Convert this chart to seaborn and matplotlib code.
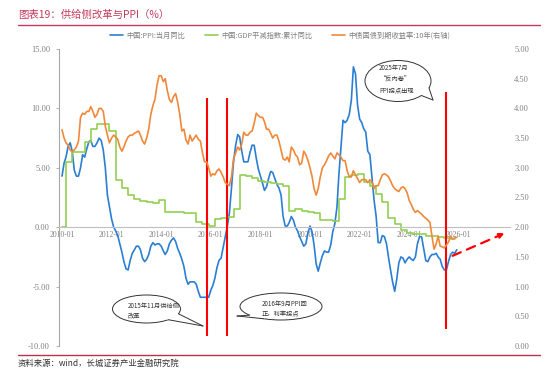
import pandas as pd
import numpy as np
import matplotlib.pyplot as plt
from matplotlib.patches import Ellipse, Polygon
from matplotlib.lines import Line2D
import seaborn as sns

sns.set_theme(style="white")
plt.rcParams['font.family'] = ['Noto Sans CJK SC', 'DejaVu Sans']
plt.rcParams['axes.unicode_minus'] = False

# ---- data ----
months = pd.date_range('2010-01-01', '2025-12-01', freq='MS')

ppi = [
    4.3, 5.4, 5.9, 6.8, 7.1, 6.4, 4.8, 4.3, 4.3, 5.0, 6.1, 5.9,
    6.6, 7.2, 7.3, 6.8, 6.8, 7.1, 7.5, 7.3, 6.5, 5.0, 2.7, 1.7,
    0.7, 0.0, -0.3, -0.7, -1.4, -2.1, -2.9, -3.5, -3.6, -2.8, -2.2, -1.9,
    -1.6, -1.6, -1.9, -2.6, -2.9, -2.7, -2.3, -1.6, -1.3, -1.5, -1.4, -1.4,
    -1.6, -2.0, -2.3, -2.0, -1.4, -1.1, -0.9, -1.2, -1.8, -2.2, -2.7, -3.3,
    -4.3, -4.8, -4.6, -4.6, -4.6, -4.8, -5.4, -5.9, -5.9, -5.9, -5.9, -5.9,
    -5.3, -4.9, -4.3, -3.4, -2.8, -2.6, -1.7, -0.8, 0.1, 1.2, 3.3, 5.5,
    6.9, 7.8, 7.6, 6.4, 5.5, 5.5, 5.5, 6.3, 6.9, 6.9, 5.8, 4.9,
    4.3, 3.7, 3.1, 3.4, 4.1, 4.7, 4.6, 4.1, 3.6, 3.3, 2.7, 0.9,
    0.1, 0.1, 0.4, 0.9, 0.6, 0.0, -0.3, -0.8, -1.2, -1.6, -1.4, -0.5,
    0.1, -0.4, -1.5, -3.1, -3.7, -3.0, -2.4, -2.0, -2.1, -2.1, -1.5, -0.4,
    0.3, 1.7, 4.4, 6.8, 9.0, 8.8, 9.0, 9.5, 10.7, 13.5, 12.9, 10.3,
    9.1, 8.8, 8.3, 8.0, 6.4, 6.1, 4.2, 2.3, 0.9, -1.3, -1.3, -0.7,
    -0.8, -1.4, -2.5, -3.6, -4.6, -5.4, -4.4, -3.0, -2.5, -2.6, -3.0, -2.7,
    -2.5, -2.7, -2.8, -2.5, -1.4, -0.8, -0.8, -1.8, -2.8, -2.9, -2.5, -2.3,
    -2.3, -2.2, -2.5, -2.7, -3.3, -3.6, -3.6, -2.9, -2.3, -2.1, -2.2, -1.9,
]

yield10y = [
    3.64, 3.50, 3.42, 3.38, 3.30, 3.27, 3.30, 3.35, 3.45, 3.85, 3.92, 3.90,
    3.95, 3.95, 4.03, 3.95, 3.85, 3.90, 4.00, 4.00, 3.95, 3.70, 3.55, 3.42,
    3.50, 3.55, 3.52, 3.48, 3.35, 3.28, 3.35, 3.45, 3.52, 3.55, 3.55, 3.58,
    3.60, 3.62, 3.55, 3.45, 3.40, 3.50, 3.65, 3.90, 4.05, 4.15, 4.40, 4.55,
    4.55, 4.45, 4.50, 4.30, 4.15, 4.10, 4.20, 4.25, 4.10, 3.90, 3.62, 3.65,
    3.47, 3.40, 3.55, 3.45, 3.50, 3.55, 3.48, 3.45, 3.25, 3.10, 3.10, 3.00,
    2.86, 2.90, 2.88, 2.95, 2.98, 2.92, 2.85, 2.75, 2.72, 2.70, 2.85, 3.15,
    3.25, 3.35, 3.30, 3.40, 3.60, 3.55, 3.55, 3.60, 3.62, 3.75, 3.92, 3.88,
    3.85, 3.85, 3.78, 3.65, 3.65, 3.58, 3.50, 3.55, 3.55, 3.45, 3.30, 3.15,
    3.13, 3.18, 3.10, 3.35, 3.30, 3.22, 3.18, 3.05, 3.08, 3.28, 3.22, 3.13,
    3.00, 2.85, 2.65, 2.54, 2.65, 2.85, 3.00, 3.05, 3.12, 3.20, 3.25, 3.20,
    3.15, 3.25, 3.22, 3.18, 3.12, 3.12, 2.95, 2.85, 2.85, 2.95, 2.88, 2.82,
    2.75, 2.80, 2.80, 2.80, 2.75, 2.80, 2.76, 2.65, 2.70, 2.70, 2.80, 2.88,
    2.90, 2.88, 2.85, 2.78, 2.70, 2.65, 2.62, 2.60, 2.66, 2.68, 2.65, 2.58,
    2.45, 2.38, 2.30, 2.25, 2.28, 2.25, 2.22, 2.18, 2.15, 2.12, 2.08, 1.85,
    1.63, 1.72, 1.85, 1.68, 1.67, 1.65, 1.70, 1.75, 1.85, 1.80, 1.82, 1.83,
]

# GDP deflator, cumulative yoy, one value per quarter (2010Q1..2025Q3),
# published at Mar/Jun/Sep/Dec; Jan-Feb 2010 shown as 0
deflator_q = [
    5.5, 6.3, 6.3, 7.2,
    8.3, 8.7, 8.7, 8.1,
    4.0, 3.3, 2.7, 2.4,
    2.2, 2.1, 2.0, 2.3,
    1.3, 1.3, 1.3, 1.2,
    1.2, 0.4, 0.3, 0.1,
    0.7, 0.8, 0.9, 1.5,
    4.4, 4.3, 4.1, 3.9,
    3.8, 3.7, 3.6, 3.5,
    1.4, 1.5, 1.4, 1.3,
    1.2, 0.6, 0.6, 0.5,
    2.4, 4.2, 4.4, 4.5,
    3.8, 3.5, 2.8, 2.1,
    0.8, 0.25, -0.2, -0.5,
    -0.6, -0.6, -0.7, -0.7,
    -0.8, -0.9, -1.0,
]
deflator_start = [0.0, 0.0]

events = ['2015-11-01', '2016-09-01', '2025-07-01']
event_tops = [10.9, 10.9, 11.4]
event_bottoms = [-9.2, -9.2, -8.6]

labels = ['中国:PPI:当月同比', '中国:GDP平减指数:累计同比', '中债国债到期收益率:10年(右轴)']
year_ticks = list(range(2010, 2027, 2))

df = pd.DataFrame({'date': months, 'ppi': ppi, 'yield': yield10y})
defl = deflator_start + list(np.repeat(deflator_q, 3))
gdf = pd.DataFrame({'date': months[:len(defl)], 'deflator': defl})

BLUE = '#2B7FD2'
GREEN = '#92D050'
ORANGE = '#F0883A'
GRAY = '#808080'
RED_LINE = '#C43A5C'

W, H = 550, 382
fig = plt.figure(figsize=(W / 100, H / 100), dpi=100)
ax = fig.add_axes([59 / W, 1 - 346 / H, (510 - 59) / W, (346 - 49) / H])

sns.lineplot(data=df, x='date', y='ppi', ax=ax, color=BLUE, lw=1.2, legend=False)
sns.lineplot(data=gdf, x='date', y='deflator', ax=ax, color=GREEN, lw=1.2,
             drawstyle='steps-post', legend=False)

ax2 = ax.twinx()
sns.lineplot(data=df, x='date', y='yield', ax=ax2, color=ORANGE, lw=1.2, legend=False)

ax.set_xlim(pd.Timestamp('2009-11-18'), pd.Timestamp('2028-01-24'))
ax.set_ylim(-10, 15)
ax2.set_ylim(0, 5)

ax.set_yticks(np.arange(-10, 15.1, 5))
ax.set_yticklabels([f'{v:.2f}' for v in np.arange(-10, 15.1, 5)])
ax2.set_yticks(np.arange(0, 5.01, 0.5))
ax2.set_yticklabels([f'{v:.2f}' for v in np.arange(0, 5.01, 0.5)])
ax.set_xticks([pd.Timestamp(f'{y}-01-01') for y in year_ticks])
ax.set_xticklabels([f'{y}-01' for y in year_ticks])

for a in (ax, ax2):
    a.set_xlabel('')
    a.set_ylabel('')
    a.grid(False)
    for s in a.spines.values():
        s.set_visible(False)
ax.spines['left'].set_visible(True)
ax.spines['left'].set_color('#A6A6A6')
ax.spines['left'].set_linewidth(0.8)
ax.spines['bottom'].set_visible(True)
ax.spines['bottom'].set_position(('data', 0))
ax.spines['bottom'].set_color('#BFBFBF')
ax.spines['bottom'].set_linewidth(0.8)

ax.tick_params(axis='y', length=2, width=0.6, color='#A6A6A6', pad=4.5,
               labelsize=6, labelcolor=GRAY)
ax.tick_params(axis='x', length=2, width=0.6, color='#BFBFBF', pad=1,
               labelsize=5.5, labelcolor=GRAY)
ax2.tick_params(axis='y', length=0, pad=3, labelsize=6, labelcolor=GRAY)
for t in ax.get_yticklabels() + ax2.get_yticklabels() + ax.get_xticklabels():
    t.set_fontfamily('Liberation Serif')

# event lines
for d, top, bot in zip(events, event_tops, event_bottoms):
    ax.vlines(pd.Timestamp(d), bot, top, color='red', lw=1.5, zorder=4)

# dashed arrow
ax.annotate('', xy=(pd.Timestamp('2027-12-10'), -0.42),
            xytext=(pd.Timestamp('2025-08-24'), -2.5),
            arrowprops=dict(arrowstyle='-|>', color='red', lw=1.6,
                            linestyle=(0, (4, 3)), mutation_scale=7),
            annotation_clip=False, zorder=5)

# legend
handles = [Line2D([], [], color=c, lw=1.2) for c in (BLUE, GREEN, ORANGE)]
leg = fig.legend(handles, labels, loc='center', bbox_to_anchor=(280 / W, 1 - 35.5 / H),
                 ncol=3, frameon=False, fontsize=5.2, handlelength=1.8,
                 handletextpad=0.4, columnspacing=2.8)
for t in leg.get_texts():
    t.set_color(GRAY)


def px(x, y):
    return (x / W, 1 - y / H)


def bubble(cx, cy, a, b, t1, t2, tip, lines, tx, ty):
    e = Ellipse(px(cx, cy), 2 * a / W, 2 * b / H, transform=fig.transFigure,
                facecolor='white', edgecolor='#333333', lw=0.7, zorder=5)
    fig.add_artist(e)
    r1, r2 = np.radians(t1), np.radians(t2)
    b1 = (cx + a * np.cos(r1), cy + b * np.sin(r1))
    b2 = (cx + a * np.cos(r2), cy + b * np.sin(r2))
    i1 = (cx + 0.8 * a * np.cos(r1), cy + 0.8 * b * np.sin(r1))
    i2 = (cx + 0.8 * a * np.cos(r2), cy + 0.8 * b * np.sin(r2))
    poly = Polygon([px(*i1), px(*b1), px(*tip), px(*b2), px(*i2)], closed=True,
                   transform=fig.transFigure, facecolor='white', edgecolor='none', zorder=6)
    fig.add_artist(poly)
    for p in (b1, b2):
        xs, ys = zip(px(*p), px(*tip))
        fig.add_artist(Line2D(xs, ys, transform=fig.transFigure, color='#333333',
                              lw=0.7, zorder=7))
    fig.text(*px(tx, ty), '\n'.join(lines), fontsize=4.5, color='#333333',
             ha='left', va='center', linespacing=1.5, zorder=8)


bubble(146.5, 309, 34, 14, 20, 50, (203, 326), ['2015年11月供给侧', '改革'], 128, 311)
bubble(281, 306.5, 41, 13.5, 140, 115, (237, 316), ['2016年9月PPI回', '正，利率拐点'], 262, 309)
bubble(398, 81, 33, 20.5, 20, 45, (433, 100), ['2025年7月', '“反内卷”', 'PPI拐点出现'], 379, 79)

# title, rules and source
fig.text(18 / W, 1 - 15 / H, '图表19：供给侧改革与PPI（%）', fontsize=7.5,
         color='#C43A5C', style='italic', ha='left', va='center')
fig.add_artist(Line2D([18 / W, 540 / W], [1 - 25 / H] * 2, transform=fig.transFigure,
                      color=RED_LINE, lw=1))
fig.add_artist(Line2D([18 / W, 540 / W], [1 - 355 / H] * 2, transform=fig.transFigure,
                      color='#C0304A', lw=1))
fig.text(18 / W, 1 - 363.5 / H, '资料来源：wind，长城证券产业金融研究院', fontsize=6,
         color='#333333', style='italic', ha='left', va='center')

fig.savefig('out.png', dpi=100)
